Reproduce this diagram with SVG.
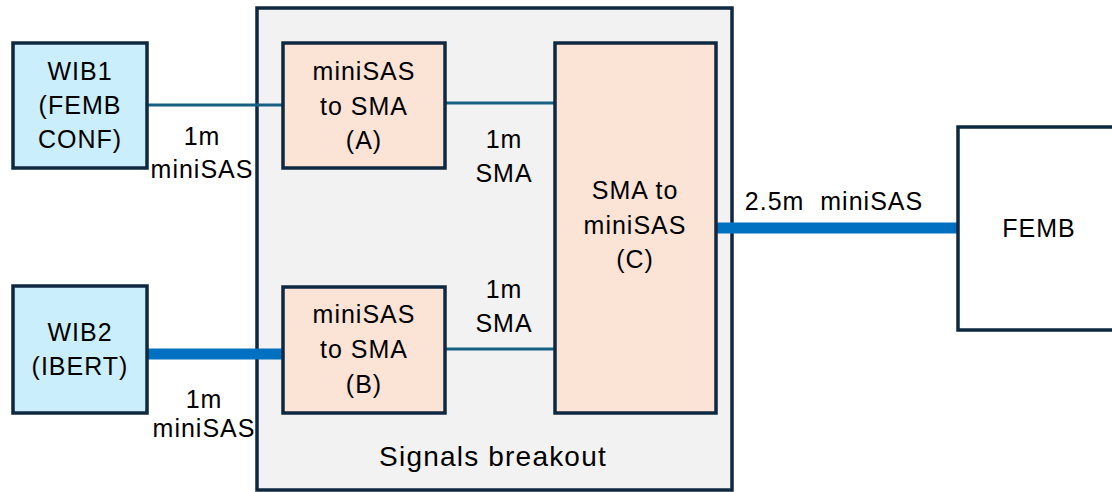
<svg xmlns="http://www.w3.org/2000/svg" width="1112" height="492" viewBox="0 0 1112 492">
<style>
.box{stroke:#0e2841;stroke-width:3.5}
.wib{fill:#caeefb}
.conv{fill:#fbe3d6}
.t{font-family:"Liberation Sans",Arial,sans-serif;font-size:25px;fill:#000;text-anchor:middle;letter-spacing:1px}
.big{font-size:28px;letter-spacing:1.2px}
.thin{stroke:#156082;stroke-width:3;fill:none}
.thick{stroke:#0070c0;stroke-width:11;fill:none}
</style>
<rect width="1112" height="492" fill="#fff"/>
<g id="breakout">
<rect class="box" x="257" y="8" width="475" height="482" fill="#f2f2f2"/>
<text class="t big" x="493" y="466">Signals breakout</text>
</g>
<g id="connectors">
<line class="thin" x1="147" y1="105" x2="283" y2="105"/>
<line class="thin" x1="445" y1="103" x2="555" y2="103"/>
<line class="thin" x1="445" y1="349" x2="555" y2="349"/>
<line class="thick" x1="147" y1="354" x2="283" y2="354"/>
<line class="thick" x1="712" y1="228" x2="958" y2="228"/>
</g>
<g id="wib1">
<rect class="box wib" x="13" y="43" width="134" height="125"/>
<text class="t" x="80" y="80">WIB1</text>
<text class="t" x="80" y="114">(FEMB</text>
<text class="t" x="80" y="148">CONF)</text>
</g>
<g id="wib2">
<rect class="box wib" x="13" y="286" width="134" height="127"/>
<text class="t" x="80" y="341">WIB2</text>
<text class="t" x="80" y="375">(IBERT)</text>
</g>
<g id="convA">
<rect class="box conv" x="283" y="43" width="162" height="125"/>
<text class="t" x="364" y="80">miniSAS</text>
<text class="t" x="364" y="115">to SMA</text>
<text class="t" x="364" y="149">(A)</text>
</g>
<g id="convB">
<rect class="box conv" x="283" y="287" width="162" height="126"/>
<text class="t" x="364" y="323">miniSAS</text>
<text class="t" x="364" y="358">to SMA</text>
<text class="t" x="364" y="393">(B)</text>
</g>
<g id="convC">
<rect class="box conv" x="555" y="43" width="161" height="370"/>
<text class="t" x="635" y="199">SMA to</text>
<text class="t" x="635" y="234">miniSAS</text>
<text class="t" x="635" y="268">(C)</text>
</g>
<g id="femb">
<rect class="box" x="958" y="127" width="160" height="203" fill="#fff"/>
<text class="t" x="1039" y="237">FEMB</text>
</g>
<g id="labels">
<text class="t" x="202" y="145">1m</text>
<text class="t" x="202" y="178">miniSAS</text>
<text class="t" x="204" y="408">1m</text>
<text class="t" x="204" y="437">miniSAS</text>
<text class="t" x="504" y="148">1m</text>
<text class="t" x="504" y="182">SMA</text>
<text class="t" x="504" y="298">1m</text>
<text class="t" x="504" y="332">SMA</text>
<text class="t" x="834" y="210" xml:space="preserve">2.5m  miniSAS</text>
</g>
</svg>
